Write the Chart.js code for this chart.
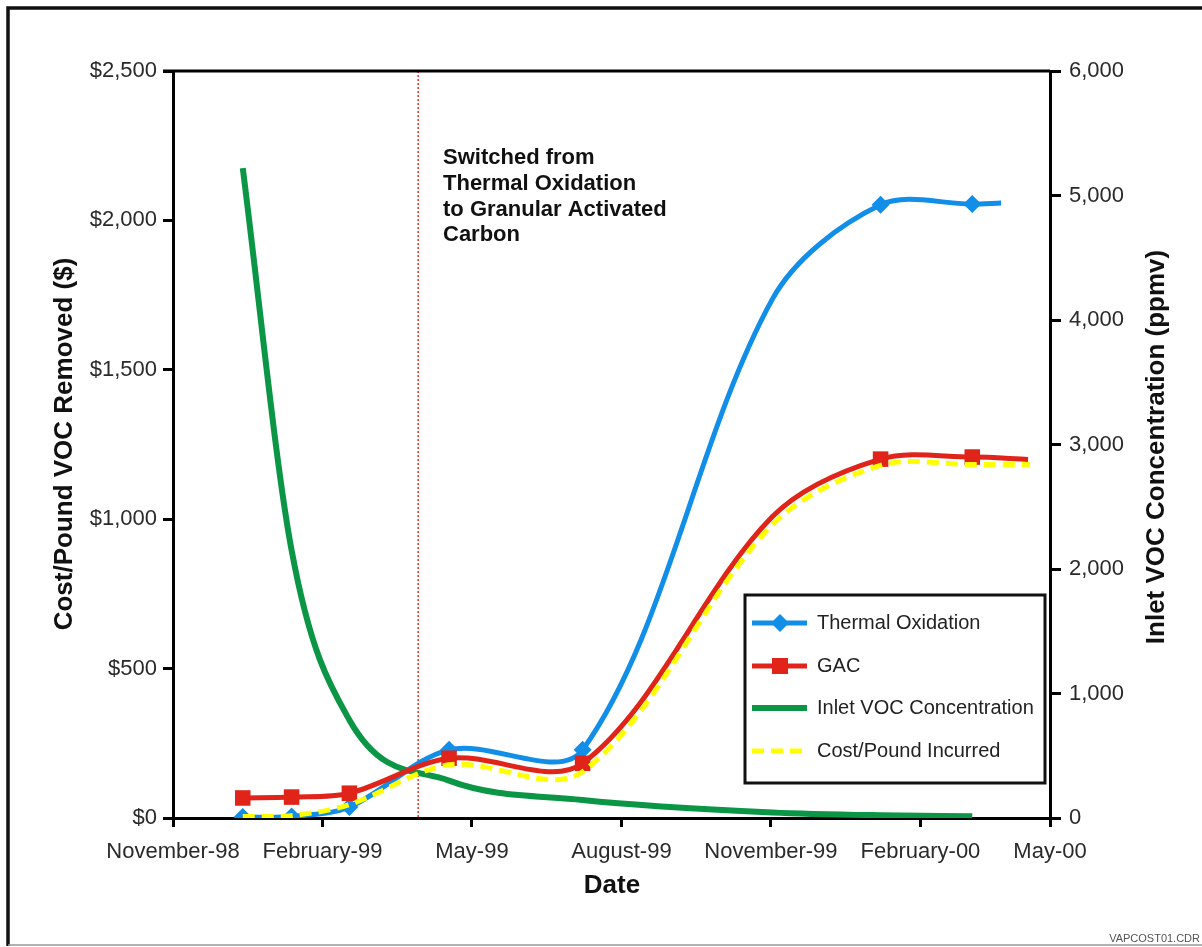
<!DOCTYPE html>
<html>
<head>
<meta charset="utf-8">
<script src="https://cdn.jsdelivr.net/npm/chart.js@4/dist/chart.umd.min.js"></script>
<style>
  html, body { margin: 0; padding: 0; background: #fff; }
  canvas { display: block; }
</style>
</head>
<body>
<canvas id="vocChart" width="1202" height="947"></canvas>
<script>
// x values are months after November-98
const tickMonths = [0, 3, 6, 9, 12, 15, 17.6];
const tickLabels = ['November-98', 'February-99', 'May-99', 'August-99', 'November-99', 'February-00', 'May-00'];

const sampleMonths = [1.4, 2.38, 3.54, 5.54, 8.22, 12.02, 14.2, 16.04];

// $ per pound (left axis), last value is the line end
const thermalCost = [3, 5, 37, 228, 228, 1734, 2052, 2055, 2058];
const thermalEnd = 16.62;
const gacCost = [67, 70, 83, 200, 183, 1007, 1201, 1208, 1200];
const gacEnd = 17.16;
const incurredCost = [5, 8, 45, 178, 155, 980, 1180, 1183, 1183];
const incurredEnd = 17.2;

// ppmv (right axis)
const inletVoc = [5220, 2150, 787, 300, 145, 45, 22, 15];

// samples that carry a marker (the Nov-99 point has none)
const markedIdx = [0, 1, 2, 3, 4, 6, 7];

const switchMonth = 4.92;
const switchText = ['Switched from', 'Thermal Oxidation', 'to Granular Activated', 'Carbon'];

function toPoints(vals, endX) {
    let pts = [];
    for (let i = 0; i < vals.length; i++) {
        pts.push({x: i < sampleMonths.length ? sampleMonths[i] : endX, y: vals[i]});
    }
    return pts;
}

function markerRadius(r) {
    return function(ctx) {
        return markedIdx.indexOf(ctx.dataIndex) >= 0 ? r : 0;
    };
}

const FONT = '"Liberation Sans", Arial, Helvetica, sans-serif';

// Legend, titles, frame and the switch line
const decor = {
    id: 'decor',
    beforeDatasetsDraw(chart) {
        const ctx = chart.ctx;
        const x = chart.scales.x.getPixelForValue(switchMonth);
        const area = chart.chartArea;
        ctx.save();
        ctx.strokeStyle = '#e8302a';
        ctx.lineWidth = 1.5;
        ctx.setLineDash([2, 2]);
        ctx.beginPath();
        ctx.moveTo(x, area.top);
        ctx.lineTo(x, area.bottom);
        ctx.stroke();
        ctx.restore();
    },
    afterDraw(chart) {
        const ctx = chart.ctx;
        const area = chart.chartArea;
        ctx.save();

        // outer frame
        ctx.strokeStyle = '#111';
        ctx.lineWidth = 3.5;
        ctx.beginPath();
        ctx.moveTo(1202, 8);
        ctx.lineTo(8, 8);
        ctx.lineTo(8, 946);
        ctx.stroke();
        ctx.strokeStyle = '#999';
        ctx.lineWidth = 1.5;
        ctx.beginPath();
        ctx.moveTo(8, 945);
        ctx.lineTo(1202, 945);
        ctx.stroke();

        // top border of plot
        ctx.strokeStyle = '#000';
        ctx.lineWidth = 3;
        ctx.beginPath();
        ctx.moveTo(area.left - 10, area.top);
        ctx.lineTo(area.right, area.top);
        ctx.stroke();

        // axis titles
        ctx.fillStyle = '#111';
        ctx.font = 'bold 26px ' + FONT;
        ctx.textAlign = 'center';
        ctx.textBaseline = 'middle';
        ctx.fillText('Date', 612, 886);
        ctx.save();
        ctx.translate(65, 444);
        ctx.rotate(-Math.PI / 2);
        ctx.fillText('Cost/Pound VOC Removed ($)', 0, 0);
        ctx.restore();
        ctx.save();
        ctx.translate(1157, 447);
        ctx.rotate(-Math.PI / 2);
        ctx.fillText('Inlet VOC Concentration (ppmv)', 0, 0);
        ctx.restore();

        // annotation text
        ctx.font = 'bold 22px ' + FONT;
        ctx.textAlign = 'left';
        for (let i = 0; i < switchText.length; i++) {
            ctx.fillText(switchText[i], 443, 158 + i * 25.8);
        }

        // drawing id
        ctx.font = '11px ' + FONT;
        ctx.fillStyle = '#555';
        ctx.textAlign = 'right';
        ctx.fillText('VAPCOST01.CDR', 1200, 939);

        // legend box
        ctx.fillStyle = '#fff';
        ctx.fillRect(745, 595, 300, 188);
        ctx.strokeStyle = '#111';
        ctx.lineWidth = 3;
        ctx.setLineDash([]);
        ctx.strokeRect(745, 595, 300, 188);

        const rows = [623, 666, 708, 751];
        chart.data.datasets.forEach(function(ds, i) {
            const y = rows[ds.legendRow];
            ctx.save();
            ctx.strokeStyle = ds.borderColor;
            ctx.lineWidth = ds.borderWidth;
            ctx.setLineDash(ds.borderDash || []);
            ctx.beginPath();
            ctx.moveTo(752, y);
            ctx.lineTo(807, y);
            ctx.stroke();
            ctx.fillStyle = ds.borderColor;
            if (ds.pointStyle === 'rectRot') {
                ctx.beginPath();
                ctx.moveTo(780, y - 9);
                ctx.lineTo(789, y);
                ctx.lineTo(780, y + 9);
                ctx.lineTo(771, y);
                ctx.closePath();
                ctx.fill();
            } else if (ds.pointStyle === 'rect') {
                ctx.fillRect(772, y - 8, 16, 16);
            }
            ctx.restore();
            ctx.fillStyle = '#222';
            ctx.font = '20px ' + FONT;
            ctx.textAlign = 'left';
            ctx.textBaseline = 'middle';
            ctx.fillText(ds.label, 817, y);
        });

        ctx.restore();
    }
};

const ctx = document.getElementById('vocChart').getContext('2d');

const vocChart = new Chart(ctx, {
    type: 'line',
    data: {
        datasets: [
            {
                label: 'Cost/Pound Incurred',
                legendRow: 3,
                data: toPoints(incurredCost, incurredEnd),
                yAxisID: 'y',
                borderColor: '#ffff00',
                borderWidth: 5,
                borderDash: [12, 7],
                tension: 0.33,
                pointRadius: 0,
                order: 0
            },
            {
                label: 'GAC',
                legendRow: 1,
                data: toPoints(gacCost, gacEnd),
                yAxisID: 'y',
                borderColor: '#e0241a',
                backgroundColor: '#e0241a',
                borderWidth: 5,
                tension: 0.33,
                pointStyle: 'rect',
                pointRadius: markerRadius(11),
                pointBorderWidth: 0,
                order: 1
            },
            {
                label: 'Thermal Oxidation',
                legendRow: 0,
                data: toPoints(thermalCost, thermalEnd),
                yAxisID: 'y',
                borderColor: '#118ee8',
                backgroundColor: '#118ee8',
                borderWidth: 5,
                tension: 0.33,
                pointStyle: 'rectRot',
                pointRadius: markerRadius(9),
                pointBorderWidth: 0,
                order: 2
            },
            {
                label: 'Inlet VOC Concentration',
                legendRow: 2,
                data: toPoints(inletVoc, null),
                yAxisID: 'y1',
                borderColor: '#0b9646',
                borderWidth: 6,
                cubicInterpolationMode: 'monotone',
                pointRadius: 0,
                order: 3
            }
        ]
    },
    options: {
        responsive: false,
        animation: false,
        devicePixelRatio: 1,
        layout: {
            padding: {top: 71, left: 0, right: 0, bottom: 0}
        },
        plugins: {
            legend: {display: false},
            tooltip: {enabled: false}
        },
        scales: {
            x: {
                type: 'linear',
                position: 'bottom',
                min: 0,
                max: 17.6,
                afterBuildTicks: function(scale) {
                    scale.ticks = tickMonths.map(function(v) { return {value: v}; });
                },
                afterFit: function(scale) { scale.height = 129; },
                border: {display: true, color: '#000', width: 3},
                grid: {drawOnChartArea: false, drawTicks: true, tickLength: 9, color: '#000', lineWidth: 3},
                ticks: {
                    autoSkip: false,
                    maxRotation: 0,
                    padding: 12,
                    color: '#2a2a2a',
                    font: {family: FONT, size: 22},
                    callback: function(value, index) { return tickLabels[index]; }
                }
            },
            y: {
                type: 'linear',
                position: 'left',
                min: 0,
                max: 2500,
                afterFit: function(scale) { scale.width = 173; },
                border: {display: true, color: '#000', width: 3},
                grid: {drawOnChartArea: false, drawTicks: true, tickLength: 10, color: '#000', lineWidth: 3},
                ticks: {
                    stepSize: 500,
                    padding: 6,
                    color: '#2a2a2a',
                    font: {family: FONT, size: 22},
                    callback: function(value) { return '$' + value.toLocaleString('en-US'); }
                }
            },
            y1: {
                type: 'linear',
                position: 'right',
                min: 0,
                max: 6000,
                afterFit: function(scale) { scale.width = 152; },
                border: {display: true, color: '#000', width: 3},
                grid: {drawOnChartArea: false, drawTicks: true, tickLength: 11, color: '#000', lineWidth: 3},
                ticks: {
                    stepSize: 1000,
                    padding: 8,
                    color: '#2a2a2a',
                    font: {family: FONT, size: 22},
                    callback: function(value) { return value.toLocaleString('en-US'); }
                }
            }
        }
    },
    plugins: [decor]
});
</script>
</body>
</html>
